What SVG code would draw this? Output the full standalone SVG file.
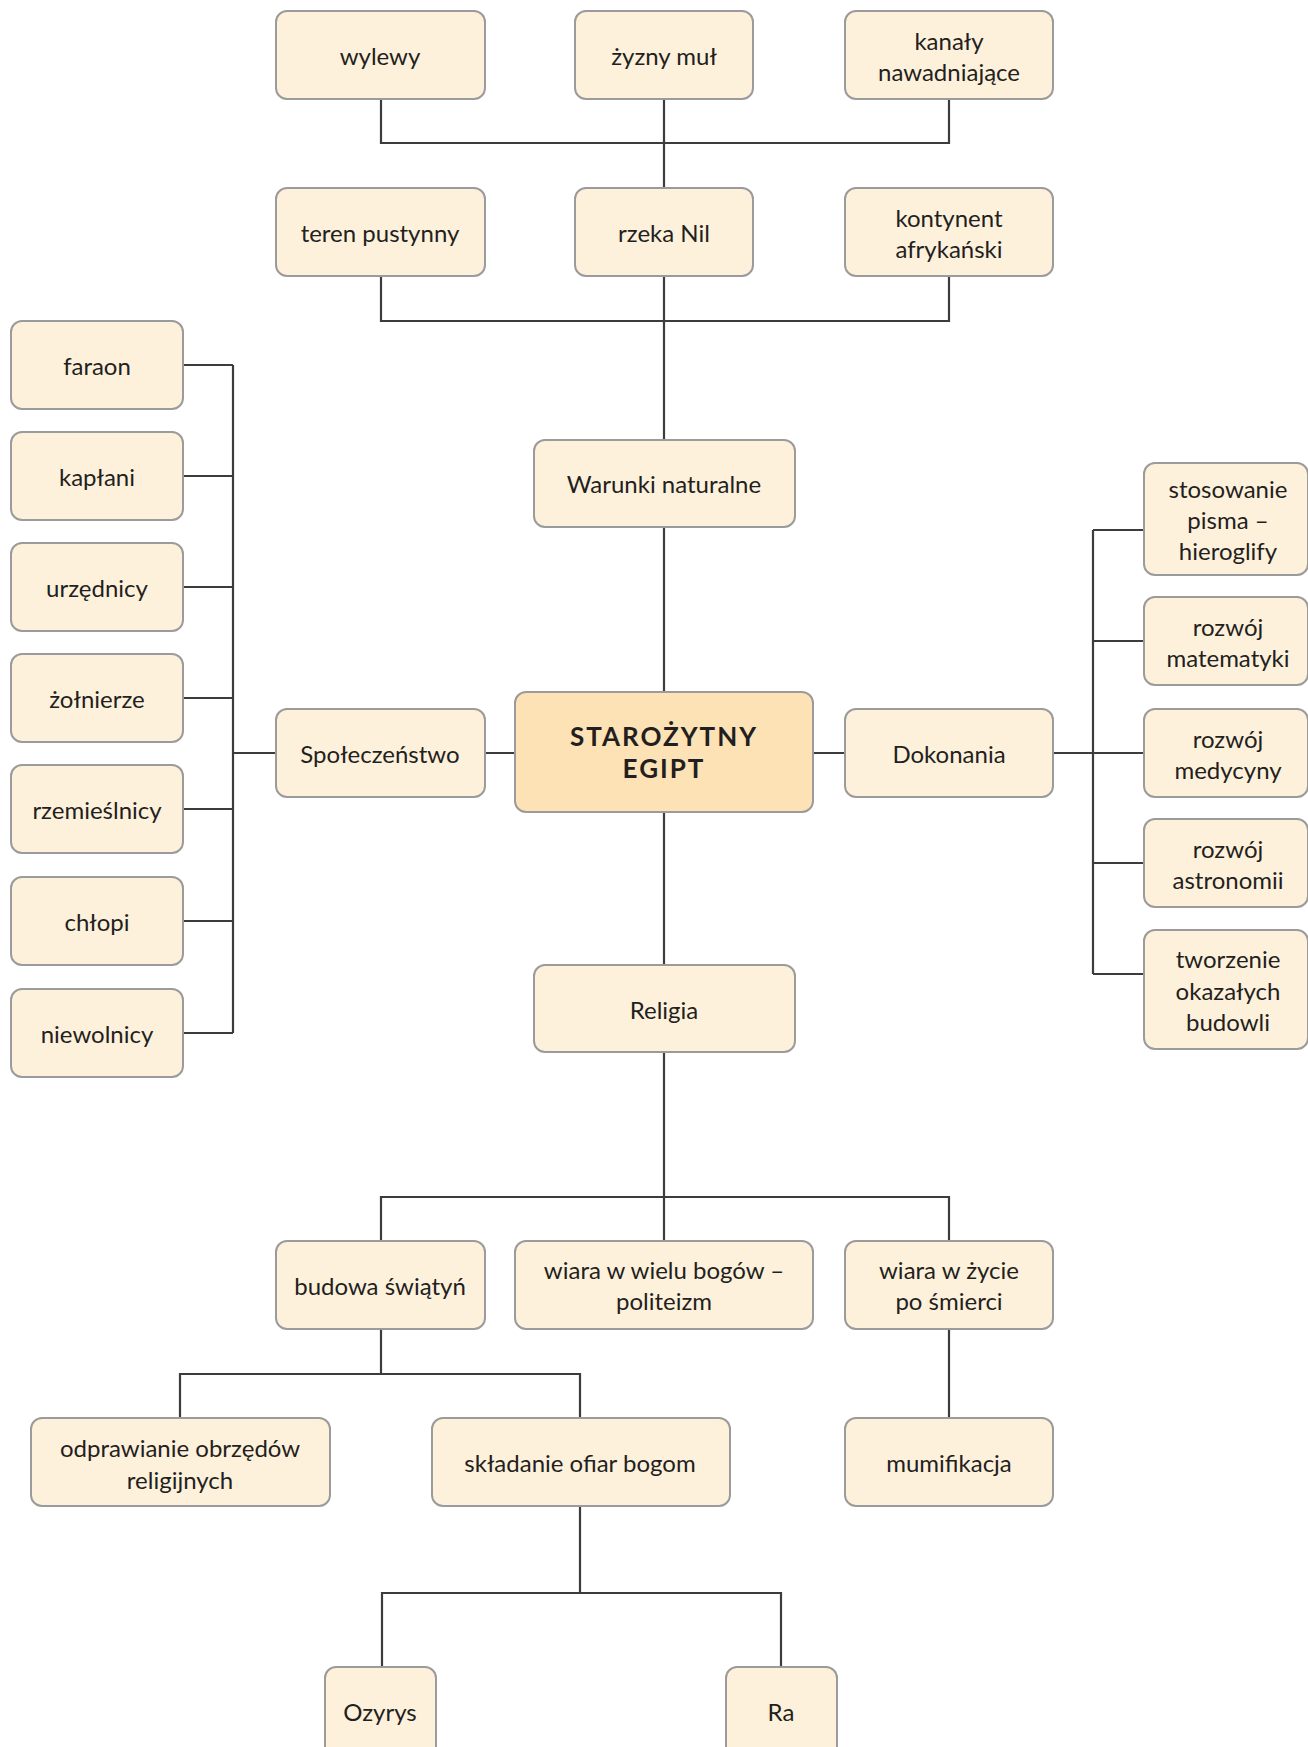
<svg xmlns="http://www.w3.org/2000/svg" width="1308" height="1747" viewBox="0 0 1308 1747">
<style>
.b{fill:#fef1dc;stroke:#9b9b9b;stroke-width:2}
.c{fill:#fde2b5;stroke:#9b9b9b;stroke-width:2}
.t{font-family:Lato,"Open Sans","Liberation Sans",sans-serif;font-size:24px;fill:#231f20;text-anchor:middle;dominant-baseline:central}
.h{font-family:Lato,"Open Sans","Liberation Sans",sans-serif;font-size:26px;font-weight:bold;letter-spacing:2px;fill:#231f20;text-anchor:middle;dominant-baseline:central}
.l{fill:none;stroke:#3c3c3c;stroke-width:2.2}
</style>
<rect width="1308" height="1747" fill="#ffffff"/>
<g id="connectors" class="l">
<path d="M381 99V143H949V99M664 99V188"/>
<path d="M381 276V321H949V276M664 276V440"/>
<path d="M664 527V692M664 812V965"/>
<path d="M485 753H515M813 753H845"/>
<path d="M183 365H233M183 476H233M183 587H233M183 698H233M183 809H233M183 921H233M183 1033H233M233 365V1033M233 753H276"/>
<path d="M1053 753H1093M1093 530V974M1093 530H1144M1093 641H1144M1093 753H1144M1093 863H1144M1093 974H1144"/>
<path d="M664 1052V1241M381 1241V1197H949V1241"/>
<path d="M381 1329V1374M180 1418V1374H580V1418M949 1329V1418"/>
<path d="M580 1506V1593M382 1667V1593H781V1667"/>
</g>
<g id="n-wylewy"><rect class="b" x="276" y="11" width="209" height="88" rx="11"/><text class="t" x="380" y="55">wylewy</text></g>
<g id="n-mul"><rect class="b" x="575" y="11" width="178" height="88" rx="11"/><text class="t" x="664" y="55">żyzny muł</text></g>
<g id="n-kanaly"><rect class="b" x="845" y="11" width="208" height="88" rx="11"/><text class="t" x="949" y="40">kanały</text><text class="t" x="949" y="71">nawadniające</text></g>
<g id="n-teren"><rect class="b" x="276" y="188" width="209" height="88" rx="11"/><text class="t" x="380" y="232">teren pustynny</text></g>
<g id="n-nil"><rect class="b" x="575" y="188" width="178" height="88" rx="11"/><text class="t" x="664" y="232">rzeka Nil</text></g>
<g id="n-kontynent"><rect class="b" x="845" y="188" width="208" height="88" rx="11"/><text class="t" x="949" y="217">kontynent</text><text class="t" x="949" y="248">afrykański</text></g>
<g id="n-warunki"><rect class="b" x="534" y="440" width="261" height="87" rx="11"/><text class="t" x="664" y="483">Warunki naturalne</text></g>
<g id="n-egipt"><rect class="c" x="515" y="692" width="298" height="120" rx="11"/><text class="h" x="664" y="736">STAROŻYTNY</text><text class="h" x="664" y="768">EGIPT</text></g>
<g id="n-spol"><rect class="b" x="276" y="709" width="209" height="88" rx="11"/><text class="t" x="380" y="753">Społeczeństwo</text></g>
<g id="n-dok"><rect class="b" x="845" y="709" width="208" height="88" rx="11"/><text class="t" x="949" y="753">Dokonania</text></g>
<g id="n-faraon"><rect class="b" x="11" y="321" width="172" height="88" rx="11"/><text class="t" x="97" y="365">faraon</text></g>
<g id="n-kaplani"><rect class="b" x="11" y="432" width="172" height="88" rx="11"/><text class="t" x="97" y="476">kapłani</text></g>
<g id="n-urzednicy"><rect class="b" x="11" y="543" width="172" height="88" rx="11"/><text class="t" x="97" y="587">urzędnicy</text></g>
<g id="n-zolnierze"><rect class="b" x="11" y="654" width="172" height="88" rx="11"/><text class="t" x="97" y="698">żołnierze</text></g>
<g id="n-rzem"><rect class="b" x="11" y="765" width="172" height="88" rx="11"/><text class="t" x="97" y="809">rzemieślnicy</text></g>
<g id="n-chlopi"><rect class="b" x="11" y="877" width="172" height="88" rx="11"/><text class="t" x="97" y="921">chłopi</text></g>
<g id="n-niew"><rect class="b" x="11" y="989" width="172" height="88" rx="11"/><text class="t" x="97" y="1033">niewolnicy</text></g>
<g id="n-pismo"><rect class="b" x="1144" y="463" width="164" height="112" rx="11"/><text class="t" x="1228" y="488">stosowanie</text><text class="t" x="1228" y="519">pisma –</text><text class="t" x="1228" y="550">hieroglify</text></g>
<g id="n-mat"><rect class="b" x="1144" y="597" width="164" height="88" rx="11"/><text class="t" x="1228" y="626">rozwój</text><text class="t" x="1228" y="657">matematyki</text></g>
<g id="n-med"><rect class="b" x="1144" y="709" width="164" height="88" rx="11"/><text class="t" x="1228" y="738">rozwój</text><text class="t" x="1228" y="769">medycyny</text></g>
<g id="n-astr"><rect class="b" x="1144" y="819" width="164" height="88" rx="11"/><text class="t" x="1228" y="848">rozwój</text><text class="t" x="1228" y="879">astronomii</text></g>
<g id="n-budowle"><rect class="b" x="1144" y="930" width="164" height="119" rx="11"/><text class="t" x="1228" y="958">tworzenie</text><text class="t" x="1228" y="990">okazałych</text><text class="t" x="1228" y="1021">budowli</text></g>
<g id="n-religia"><rect class="b" x="534" y="965" width="261" height="87" rx="11"/><text class="t" x="664" y="1009">Religia</text></g>
<g id="n-swiatyn"><rect class="b" x="276" y="1241" width="209" height="88" rx="11"/><text class="t" x="380" y="1285">budowa świątyń</text></g>
<g id="n-politeizm"><rect class="b" x="515" y="1241" width="298" height="88" rx="11"/><text class="t" x="664" y="1269">wiara w wielu bogów –</text><text class="t" x="664" y="1300">politeizm</text></g>
<g id="n-zycie"><rect class="b" x="845" y="1241" width="208" height="88" rx="11"/><text class="t" x="949" y="1269">wiara w życie</text><text class="t" x="949" y="1300">po śmierci</text></g>
<g id="n-obrzedy"><rect class="b" x="31" y="1418" width="299" height="88" rx="11"/><text class="t" x="180" y="1447">odprawianie obrzędów</text><text class="t" x="180" y="1479">religijnych</text></g>
<g id="n-ofiary"><rect class="b" x="432" y="1418" width="298" height="88" rx="11"/><text class="t" x="580" y="1462">składanie ofiar bogom</text></g>
<g id="n-mumif"><rect class="b" x="845" y="1418" width="208" height="88" rx="11"/><text class="t" x="949" y="1462">mumifikacja</text></g>
<g id="n-ozyrys"><rect class="b" x="325" y="1667" width="111" height="100" rx="11"/><text class="t" x="380" y="1711">Ozyrys</text></g>
<g id="n-ra"><rect class="b" x="726" y="1667" width="111" height="100" rx="11"/><text class="t" x="781" y="1711">Ra</text></g>
</svg>
